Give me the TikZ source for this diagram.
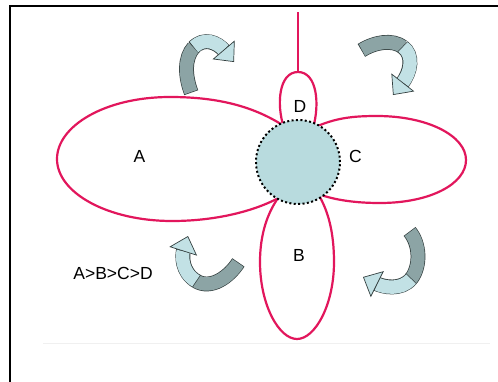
\documentclass[tikz,border=0pt]{standalone}
\usepackage{fontspec}
\setmainfont{Liberation Sans}
\usetikzlibrary{arrows.meta}
\definecolor{petalred}{RGB}{226,22,92}
\definecolor{corefill}{RGB}{184,219,222}
\definecolor{arrowlight}{RGB}{194,225,229}
\definecolor{arrowdark}{RGB}{140,164,165}
\definecolor{arrowedge}{RGB}{52,64,64}
\tikzset{
  petal/.style={draw=petalred, line width=2.2pt},
  lbl/.style={inner sep=0pt, font=\fontsize{17.5}{20}\selectfont},
  ribbonedge/.style={draw=arrowedge, line width=14.8pt, line cap=butt},
  ribbondark/.style={draw=arrowdark, line width=13.4pt, line cap=butt},
  ribbonlight/.style={draw=arrowlight, line width=13.4pt, line cap=butt,
    -{Triangle[width=29pt,length=16pt,fill=arrowlight,color=arrowedge,line width=0.7pt]}},
}
% two-tone curled ribbon arrow: #1 = tail (dark) segment, #2 = head (light) segment
\newcommand\curlarrow[2]{%
  \draw[ribbonedge, shorten <=-0.7pt] #1;
  \draw[ribbondark] #1;
  \draw[ribbonedge, shorten <=-0.7pt, shorten >=14pt] #2;
  \draw[ribbonlight] #2;
}
\begin{document}
\begin{tikzpicture}[x=1pt,y=1pt,yscale=-1]
\useasboundingbox (0,0) rectangle (498,381);
\fill[white] (0,0) rectangle (498,381);

% frame
\draw[line width=2pt] (10,384) -- (10,6) -- (502,6);
\draw[black!6, line width=1pt] (43,343) -- (490,343);

% stem
\coordinate (stemtop) at (298,12);
\coordinate (dtop) at (298,72);
\draw[petal] (stemtop) -- (dtop);

% petals
\draw[petal] (284,126) .. controls (250,104) and (212,97) .. (170,97)
  .. controls (105,97) and (57,126) .. (57,159)
  .. controls (57,193) and (108,221) .. (172,221)
  .. controls (218,221) and (258,210) .. (282,196);
\draw[petal] (313,128) .. controls (335,118) and (352,116) .. (377,116)
  .. controls (428,116) and (466,136) .. (466,160)
  .. controls (466,184) and (430,203) .. (380,203)
  .. controls (355,203) and (335,200) .. (318,194);
\draw[petal] (281,194) .. controls (267,212) and (260,235) .. (260,262)
  .. controls (260,305) and (279,339) .. (297,339)
  .. controls (315,339) and (334,305) .. (334,262)
  .. controls (334,232) and (328,210) .. (318,194);
\draw[petal] (284,128) .. controls (276,104) and (279,72) .. (dtop)
  .. controls (317,72) and (320,104) .. (313,128);

% centre
\node[circle, minimum size=84pt, inner sep=0pt, fill=corefill, draw=black,
  line width=2pt, dash pattern=on 2pt off 2.4pt] (core) at (298,162) {};

% labels
\node[lbl] (la) at (139.5,156.5) {A};
\node[lbl] (lc) at (355.5,156) {C};
\node[lbl] (ld) at (300,106.5) {D};
\node[lbl] (lb) at (299,255) {B};
\node[lbl] (order) at (113,273) {A>B>C>D};

% rotation arrows
\curlarrow{(191,92) .. controls (185,76) and (184,58) .. (194,47)}
          {(194,47) .. controls (204,37) and (217,42) .. (234,62)}
\curlarrow{(362,50) .. controls (375,42) and (392,39) .. (403,47)}
          {(403,47) .. controls (414,55) and (411,72) .. (393,95)}
\curlarrow{(410,232) .. controls (420,244) and (421,266) .. (411,279)}
          {(411,279) .. controls (401,291) and (383,287) .. (363,277)}
\curlarrow{(238,263) .. controls (229,277) and (211,290) .. (196,281)}
          {(196,281) .. controls (181,272) and (182,255) .. (188,236)}
\end{tikzpicture}
\end{document}
